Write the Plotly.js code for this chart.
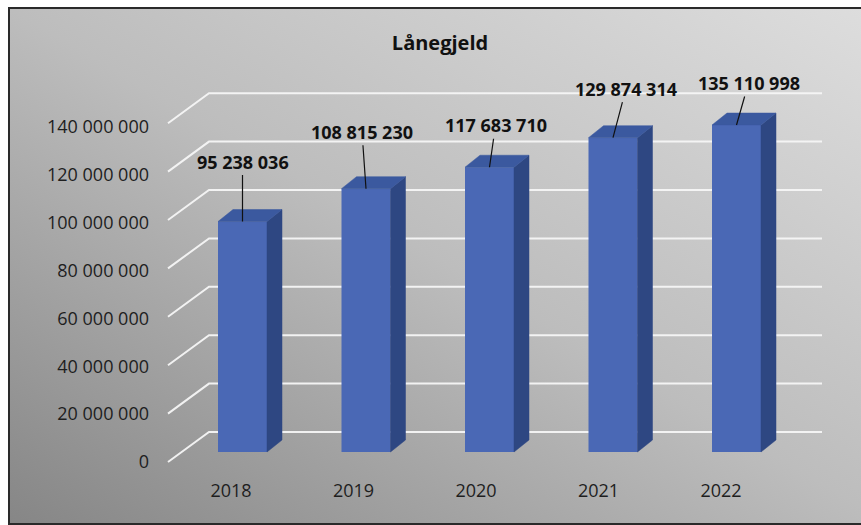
<!DOCTYPE html>
<html>
<head>
<meta charset="utf-8">
<script src="https://cdn.plot.ly/plotly-3.0.1.min.js"></script>
<style>
  html, body { margin: 0; padding: 0; width: 861px; height: 525px; overflow: hidden; background: #ffffff; }
  #frame {
    position: absolute; left: 8px; top: 7px; width: 880px; height: 514px;
    border: 2px solid #2a2a2a;
    background: linear-gradient(to top right, #868686 0%, #bdbdbd 50%, #dedede 100%);
  }
  #chart { position: absolute; left: 0; top: 0; width: 861px; height: 525px; }
</style>
</head>
<body>
<div id="frame"></div>
<div id="chart"></div>
<script>
// ---- data ----
const years = ['2018', '2019', '2020', '2021', '2022'];
const loanDebt = [95238036, 108815230, 117683710, 129874314, 135110998];
const yTickVals = [0, 20000000, 40000000, 60000000, 80000000, 100000000, 120000000, 140000000];
const chartTitle = 'Lånegjeld';

// ---- layout / style constants ----
const W = 861, H = 525;
const PX_PER_CAT = 123.5;          // px between bar centres
const PX_PER_VAL = 2.42e-6;        // px per unit value
const BAR_X0_PX = 242.5;           // px of first bar front centre
const BAR_BASE_PX = 452;           // px (from top) of bar front base
const BAR_W = 49 / PX_PER_CAT;     // front-face width in category units
const DEPTH_DX = 15 / PX_PER_CAT;  // bar depth, x
const DEPTH_DY = 12 / PX_PER_VAL;  // bar depth, value
const LABEL_PLANE_DY = -10 / PX_PER_VAL; // front-floor plane relative to bar front plane
const BACK_PLANE_DY = 20 / PX_PER_VAL;   // back wall relative to bar front plane
const GRID_X_FRONT = 168, GRID_X_BACK = 209, GRID_X_END = 822; // px
const LABEL_OFFSETS = [[0, -60], [-4, -57], [6, -42], [13, -49], [12, -42]];
const TICK_ZERO_PX = 462, TICK_PX_PER_VAL = 2.393e-6; // tick label scale (front floor edge)
const FONT = 'Open Sans, Noto Sans, sans-serif';

const xMin = -BAR_X0_PX / PX_PER_CAT, xMax = xMin + W / PX_PER_CAT;
const yMin = -(H - BAR_BASE_PX) / PX_PER_VAL, yMax = BAR_BASE_PX / PX_PER_VAL;
const pxToX = p => xMin + p / PX_PER_CAT;

const fmt = v => Math.round(v).toString().replace(/\B(?=(\d{3})+(?!\d))/g, ' ');

const idx = years.map((_, i) => i);

// front faces
const frontFaces = {
  type: 'bar', x: idx, y: loanDebt, width: BAR_W,
  marker: { color: '#4a68b5', line: { width: 0 } },
  hoverinfo: 'skip', showlegend: false
};

// side + top faces
const sx = [], sy = [], tx = [], ty = [];
loanDebt.forEach((v, i) => {
  const xl = i - BAR_W / 2, xr = i + BAR_W / 2;
  sx.push(xr, xr, xr + DEPTH_DX, xr + DEPTH_DX, xr, null);
  sy.push(0, v, v + DEPTH_DY, DEPTH_DY, 0, null);
  tx.push(xl, xr, xr + DEPTH_DX, xl + DEPTH_DX, xl, null);
  ty.push(v, v, v + DEPTH_DY, v + DEPTH_DY, v, null);
});
const sideFaces = { type: 'scatter', mode: 'lines', x: sx, y: sy, fill: 'toself', fillcolor: '#2e4782',
  line: { width: 0.5, color: '#2e4782' }, hoverinfo: 'skip', showlegend: false };
const topFaces = { type: 'scatter', mode: 'lines', x: tx, y: ty, fill: 'toself', fillcolor: '#3b599f',
  line: { width: 0.5, color: '#3b599f' }, hoverinfo: 'skip', showlegend: false };

// helper traces so the label axes get drawn
const yLabelHolder = { type: 'scatter', x: [0], y: [0], xaxis: 'x', yaxis: 'y2', mode: 'markers',
  marker: { opacity: 0 }, hoverinfo: 'skip', showlegend: false };
const xLabelHolder = { type: 'scatter', x: [0], y: [0], xaxis: 'x2', yaxis: 'y', mode: 'markers',
  marker: { opacity: 0 }, hoverinfo: 'skip', showlegend: false };

// gridlines (perspective) as shapes below traces
const gridShapes = yTickVals.map(v => {
  const x0 = pxToX(GRID_X_FRONT), x1 = pxToX(GRID_X_BACK), x2 = pxToX(GRID_X_END);
  const y0 = v + LABEL_PLANE_DY, y1 = v + BACK_PLANE_DY;
  return { type: 'path', xref: 'x', yref: 'y', layer: 'below',
    path: `M ${x0} ${y0} L ${x1} ${y1} L ${x2} ${y1}`,
    line: { color: 'rgba(246,246,246,0.95)', width: 2 } };
});

// data labels with leader lines
const dataLabels = loanDebt.map((v, i) => ({
  x: i, y: v, xref: 'x', yref: 'y', text: fmt(v),
  showarrow: true, arrowhead: 0, arrowwidth: 1.2, arrowcolor: '#111111', standoff: 0,
  ax: LABEL_OFFSETS[i][0], ay: LABEL_OFFSETS[i][1],
  font: { family: FONT, size: 18, color: '#111111', weight: 'bold' }
}));

const yl0 = -(H - TICK_ZERO_PX) / TICK_PX_PER_VAL, yl1 = TICK_ZERO_PX / TICK_PX_PER_VAL;
const YEAR_X0_PX = 231, YEAR_STEP_PX = 122.5;
const x2Min = -YEAR_X0_PX / YEAR_STEP_PX, x2Max = x2Min + W / YEAR_STEP_PX;

const layout = {
  width: W, height: H,
  margin: { l: 0, r: 0, t: 0, b: 0, pad: 0 },
  paper_bgcolor: 'rgba(0,0,0,0)', plot_bgcolor: 'rgba(0,0,0,0)',
  title: { text: '<b>' + chartTitle + '</b>', x: 440 / W, xanchor: 'center', xref: 'paper',
    y: 1 - 43 / H, yanchor: 'middle', yref: 'container',
    font: { family: FONT, size: 20, color: '#111111' } },
  xaxis: { range: [xMin, xMax], visible: false, fixedrange: true },
  yaxis: { range: [yMin, yMax], visible: false, fixedrange: true },
  yaxis2: { overlaying: 'y', anchor: 'free', position: 149 / W, side: 'left',
    range: [yl0, yl1], tickvals: yTickVals, ticktext: yTickVals.map(fmt),
    showgrid: false, zeroline: false, showline: false, ticks: '',
    tickfont: { family: FONT, size: 18, color: '#1e1e1e' }, fixedrange: true },
  xaxis2: { overlaying: 'x', anchor: 'free', position: (H - 478) / H, side: 'bottom',
    range: [x2Min, x2Max], tickvals: idx, ticktext: years,
    showgrid: false, zeroline: false, showline: false, ticks: '',
    tickfont: { family: FONT, size: 18, color: '#1e1e1e' }, fixedrange: true },
  shapes: gridShapes,
  annotations: dataLabels,
  showlegend: false
};

Plotly.newPlot('chart', [frontFaces, sideFaces, topFaces, yLabelHolder, xLabelHolder], layout,
  { displayModeBar: false, staticPlot: true });
</script>
</body>
</html>
